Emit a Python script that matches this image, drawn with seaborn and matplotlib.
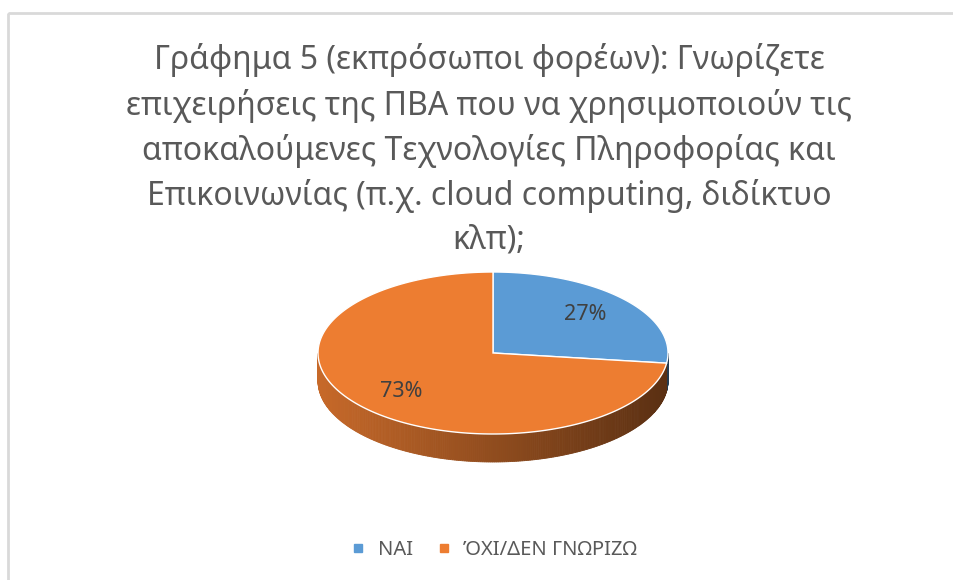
import numpy as np
import matplotlib
matplotlib.use("Agg")
import matplotlib.pyplot as plt
from matplotlib.patches import Polygon, Rectangle
from matplotlib.lines import Line2D
from matplotlib.colors import to_rgb
import seaborn as sns

# data
labels = ["ΝΑΙ", "ΌΧΙ/ΔΕΝ ΓΝΩΡΙΖΩ"]
shares = [27, 73]
colors = ["#5B9BD5", "#ED7D31"]
title = ("Γράφημα 5 (εκπρόσωποι φορέων): Γνωρίζετε\n"
         "επιχειρήσεις της ΠΒΑ που να χρησιμοποιούν τις\n"
         "αποκαλούμενες Τεχνολογίες Πληροφορίας και\n"
         "Επικοινωνίας (π.χ. cloud computing, διδίκτυο\n"
         "κλπ);")

sns.set_theme(style="white")
plt.rcParams['font.family'] = ['Noto Sans', 'DejaVu Sans']

fig = plt.figure(figsize=(9.54, 5.8), dpi=100)
ax = fig.add_axes([0, 0, 1, 1])
ax.set_xlim(0, 954)
ax.set_ylim(580, 0)
ax.axis("off")

# chart border (left / top visible)
ax.add_patch(Rectangle((8.5, 12.5), 960, 600, fill=False, ec="#d9d9d9", lw=2))

# pie geometry (pixels)
cx, cy, R, r, depth = 493, 353, 175, 81, 28

def pt(theta, down=0):
    t = np.radians(theta)
    return cx + R * np.cos(t), cy - r * np.sin(t) + down

# slice angles, clockwise from 12 o'clock
fr = np.array(shares) / sum(shares)
starts = 90 - 360 * np.concatenate([[0], np.cumsum(fr)[:-1]])
ends = starts - 360 * fr

def shade(c, theta):
    # darken towards the right side of the wall
    x = (np.cos(np.radians(theta)) + 1) / 2
    f = 0.84 - 0.46 * x
    return tuple(np.array(to_rgb(c)) * f)

# side wall (front half only)
for c, s, e in zip(colors, starts, ends):
    a = np.linspace(e, s, 400)
    a = np.mod(a, 360)
    for a0, a1 in zip(a[:-1], a[1:]):
        if a1 < a0:
            continue
        if not (180 <= a0 <= 360 and 180 <= a1 <= 360):
            continue
        p0, p1 = pt(a0), pt(a1)
        q1, q0 = pt(a1, depth), pt(a0, depth)
        col = shade(c, (a0 + a1) / 2)
        ax.add_patch(Polygon([p0, p1, q1, q0], closed=True,
                             fc=col, ec=col, lw=0.6, zorder=1))

# top face
for c, s, e in zip(colors, starts, ends):
    a = np.linspace(s, e, 200)
    pts = [(cx, cy)] + [pt(t) for t in a]
    ax.add_patch(Polygon(pts, closed=True, fc=c, ec="white", lw=1, zorder=2))

# percentage labels
for p, s, e in zip(shares, starts, ends):
    m = (s + e) / 2
    x, y = cx + 0.7 * R * np.cos(np.radians(m)), cy - 0.72 * r * np.sin(np.radians(m))
    ax.text(x, y, f"{p}%", ha="center", va="center", fontsize=15.5,
            color="#404040", zorder=3)

ax.text(489, 150, title, ha="center", va="center", fontsize=23,
        color="#595959", linespacing=1.43)

handles = [Line2D([], [], marker="s", ls="", color=c, markersize=6) for c in colors]
fig.legend(handles, labels, loc="center", bbox_to_anchor=(0.518, 1 - 550 / 580),
           ncol=2, frameon=False, fontsize=14.5, labelcolor="#595959",
           handlelength=0.7, handletextpad=0.6, columnspacing=1.2)

fig.savefig("out.png", dpi=100)
